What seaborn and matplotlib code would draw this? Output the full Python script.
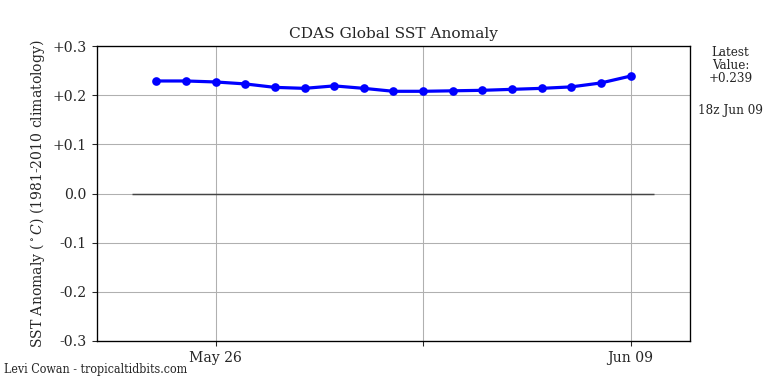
import seaborn as sns
import matplotlib.pyplot as plt
import matplotlib.ticker as mticker
import pandas as pd

# data
dates = pd.date_range("2025-05-24", "2025-06-09", freq="D")
anom = [0.229, 0.229, 0.227, 0.223, 0.216, 0.214, 0.219, 0.214, 0.208,
        0.208, 0.209, 0.210, 0.212, 0.214, 0.217, 0.225, 0.239]
tick_dates = pd.to_datetime(["2025-05-26", "2025-06-02", "2025-06-09"])
tick_labels = ["May 26", "", "Jun 09"]
latest = anom[-1]
latest_time = "18z Jun 09"

df = pd.DataFrame({"date": dates, "anom": anom})

sns.set_style("white")
plt.rcParams["font.family"] = ["DejaVu Serif"]
plt.rcParams["mathtext.fontset"] = "dejavuserif"

fig = plt.figure(figsize=(8, 4), dpi=96)
ax = fig.add_axes([0.1263, 0.112, 0.772, 0.768])

# zero reference line, a bit past the data on both ends
ax.hlines(0, dates[0] - pd.Timedelta(hours=20), dates[-1] + pd.Timedelta(hours=19),
          color="#444444", lw=1.1, zorder=2)

sns.lineplot(data=df, x="date", y="anom", ax=ax, color="blue", lw=2.4,
             marker="o", markersize=6.5, markeredgewidth=0, zorder=3)

ax.set_xlim(pd.Timestamp("2025-05-22"), pd.Timestamp("2025-06-11"))
ax.set_ylim(-0.3, 0.3)
ax.set_xticks(tick_dates)
ax.set_xticklabels(tick_labels, fontsize=10.5)
ax.yaxis.set_major_locator(mticker.MultipleLocator(0.1))
ax.yaxis.set_major_formatter(mticker.FuncFormatter(
    lambda v, p: "0.0" if abs(v) < 1e-9 else f"{v:+.1f}"))
ax.tick_params(axis="y", labelsize=10.5)
ax.tick_params(axis="both", direction="out", length=4, left=True, bottom=True)
ax.grid(True, color="#b0b0b0", lw=0.8)
ax.set_axisbelow(True)
for s in ax.spines.values():
    s.set_color("black")
    s.set_linewidth(1.0)

ax.set_xlabel("")
ax.set_ylabel(r"SST Anomaly ($^\circ C$) (1981-2010 climatology)", fontsize=10.5)
ax.set_title("CDAS Global SST Anomaly", fontsize=11.5, pad=6)

fig.text(0.951, 0.88, f"Latest\nValue:\n{latest:+.3f}", ha="center", va="top",
         fontsize=9, linespacing=1.0)
fig.text(0.951, 0.711, latest_time, ha="center", va="center", fontsize=9)
fig.text(0.005, 0.02, "Levi Cowan - tropicaltidbits.com", ha="left", va="bottom",
         fontsize=9.3, fontstretch="condensed")

fig.savefig("out.png", dpi=96)
